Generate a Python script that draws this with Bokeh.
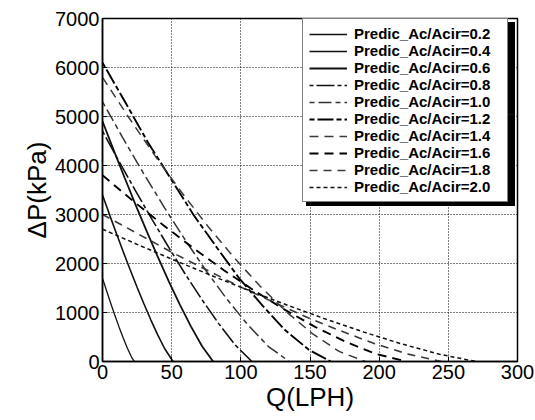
from bokeh.plotting import figure
from bokeh.models import Legend, LegendItem, FixedTicker, Range1d
from bokeh.embed import file_html
from bokeh.resources import INLINE

# ---- data (Q in LPH, dP in kPa) ----
labels = ["Predic_Ac/Acir=0.2", "Predic_Ac/Acir=0.4", "Predic_Ac/Acir=0.6",
          "Predic_Ac/Acir=0.8", "Predic_Ac/Acir=1.0", "Predic_Ac/Acir=1.2",
          "Predic_Ac/Acir=1.4", "Predic_Ac/Acir=1.6", "Predic_Ac/Acir=1.8",
          "Predic_Ac/Acir=2.0"]

q_02 = [0, 3, 6, 9, 12, 15, 18, 21, 23]
dp_02 = [1700, 1438, 1183, 937, 701, 479, 272, 91, 0]

q_04 = [0, 5, 10, 15, 20, 25, 30, 35, 40, 45, 51]
dp_04 = [3400, 3003, 2617, 2238, 1871, 1516, 1173, 846, 540, 260, 0]

q_06 = [0, 8, 16, 24, 32, 40, 48, 56, 64, 72, 80]
dp_06 = [4900, 4318, 3750, 3193, 2654, 2133, 1632, 1155, 711, 310, 0]

q_08 = [0, 12, 24, 36, 48, 60, 72, 84, 96, 108]
dp_08 = [4700, 4081, 3477, 2891, 2323, 1776, 1258, 773, 336, 0]

q_10 = [0, 15, 30, 45, 60, 75, 90, 105, 120, 135]
dp_10 = [5300, 4548, 3823, 3131, 2471, 1847, 1271, 750, 305, 0]

q_12 = [0, 17, 33, 50, 66, 83, 99, 116, 132, 149, 165]
dp_12 = [6100, 5264, 4464, 3702, 2984, 2312, 1691, 1130, 641, 243, 0]

q_14 = [0, 19, 38, 57, 76, 95, 114, 133, 152, 171, 190]
dp_14 = [5800, 4979, 4197, 3458, 2765, 2123, 1536, 1012, 562, 206, 0]

q_16 = [0, 22, 44, 66, 88, 110, 132, 154, 176, 198, 220]
dp_16 = [3800, 3279, 2782, 2307, 1858, 1440, 1053, 703, 399, 151, 0]

q_18 = [0, 25, 49, 74, 98, 123, 147, 172, 196, 221, 245]
dp_18 = [3000, 2616, 2244, 1887, 1545, 1219, 912, 627, 370, 150, 0]

q_20 = [0, 27, 54, 81, 108, 135, 162, 189, 216, 243, 270]
dp_20 = [2700, 2367, 2043, 1729, 1426, 1135, 859, 599, 361, 152, 0]

x_ticks = [0, 50, 100, 150, 200, 250, 300]
y_ticks = [0, 1000, 2000, 3000, 4000, 5000, 6000, 7000]

series = [(q_02, dp_02), (q_04, dp_04), (q_06, dp_06), (q_08, dp_08),
          (q_10, dp_10), (q_12, dp_12), (q_14, dp_14), (q_16, dp_16),
          (q_18, dp_18), (q_20, dp_20)]

styles = [
    dict(line_color="#111111", line_width=1.3, line_dash="solid"),
    dict(line_color="#111111", line_width=1.6, line_dash="solid"),
    dict(line_color="#111111", line_width=1.8, line_dash="solid"),
    dict(line_color="#111111", line_width=1.6, line_dash="4 3 18 3"),
    dict(line_color="#333333", line_width=1.5, line_dash="5 4 13 4"),
    dict(line_color="#000000", line_width=1.9, line_dash="5 3 16 3"),
    dict(line_color="#3a3a3a", line_width=1.5, line_dash="9 6"),
    dict(line_color="#000000", line_width=1.9, line_dash="9 6"),
    dict(line_color="#3a3a3a", line_width=1.6, line_dash="8 6"),
    dict(line_color="#111111", line_width=1.5, line_dash="4 3"),
]

FONT = "Liberation Sans"

p = figure(width=535, height=420,
           x_range=Range1d(0, 300), y_range=Range1d(0, 7000),
           output_backend="svg", toolbar_location=None,
           min_border_left=102, min_border_right=18,
           min_border_top=18, min_border_bottom=59)

p.background_fill_color = "white"
p.border_fill_color = "white"
p.outline_line_color = "black"
p.outline_line_width = 1.5

for ax in (p.xaxis[0], p.yaxis[0]):
    ax.major_label_text_font = FONT
    ax.major_label_text_font_size = "20px"
    ax.major_label_text_color = "black"
    ax.axis_label_text_font = FONT
    ax.axis_label_text_font_size = "26px"
    ax.axis_label_text_font_style = "normal"
    ax.axis_label_text_color = "black"
    ax.axis_line_color = "black"
    ax.axis_line_width = 1.5
    ax.major_tick_in = 5
    ax.major_tick_out = 0
    ax.minor_tick_line_color = None
    ax.major_tick_line_color = "black"
    ax.major_label_standoff = 3
    ax.axis_label_standoff = 0

p.xaxis.ticker = FixedTicker(ticks=x_ticks)
p.yaxis.ticker = FixedTicker(ticks=y_ticks)
p.xaxis.axis_label = "Q(LPH)"
p.yaxis.axis_label = "ΔP(kPa)"

for g in (p.xgrid[0], p.ygrid[0]):
    g.grid_line_color = "black"
    g.grid_line_dash = "1 2"
    g.grid_line_width = 1.1

items = []
renderers = []
for (qs, ps), lab, st in zip(series, labels, styles):
    r = p.line(qs, ps, **st)
    renderers.append(r)
    items.append(LegendItem(label=lab, renderers=[r]))

# drop shadow: a solid black box of the legend's size, offset down-right
shadow = Legend(items=[LegendItem(label="", renderers=[renderers[0]])],
                location=(204, 155))
shadow.glyph_width = 207
shadow.glyph_height = 182
shadow.label_height = 182
shadow.label_width = 0
shadow.label_standoff = 0
shadow.padding = 0
shadow.margin = 0
shadow.spacing = 0
shadow.label_text_font_size = "1px"
shadow.label_text_color = "black"
shadow.background_fill_color = "black"
shadow.background_fill_alpha = 1
shadow.border_line_color = "black"
shadow.border_line_width = 1
p.add_layout(shadow)

legend = Legend(items=items, location=(200, 159))
legend.label_text_font = FONT
legend.label_text_font_style = "bold"
legend.label_text_font_size = "15px"
legend.label_text_color = "black"
legend.glyph_width = 38
legend.glyph_height = 14
legend.label_height = 14
legend.label_width = 147
legend.spacing = 0
legend.padding = 6
legend.margin = 0
legend.label_standoff = 7
legend.border_line_color = "black"
legend.border_line_width = 1.5
legend.background_fill_color = "white"
legend.background_fill_alpha = 1
p.add_layout(legend)

open("out.html", "w").write(file_html(p, INLINE))
